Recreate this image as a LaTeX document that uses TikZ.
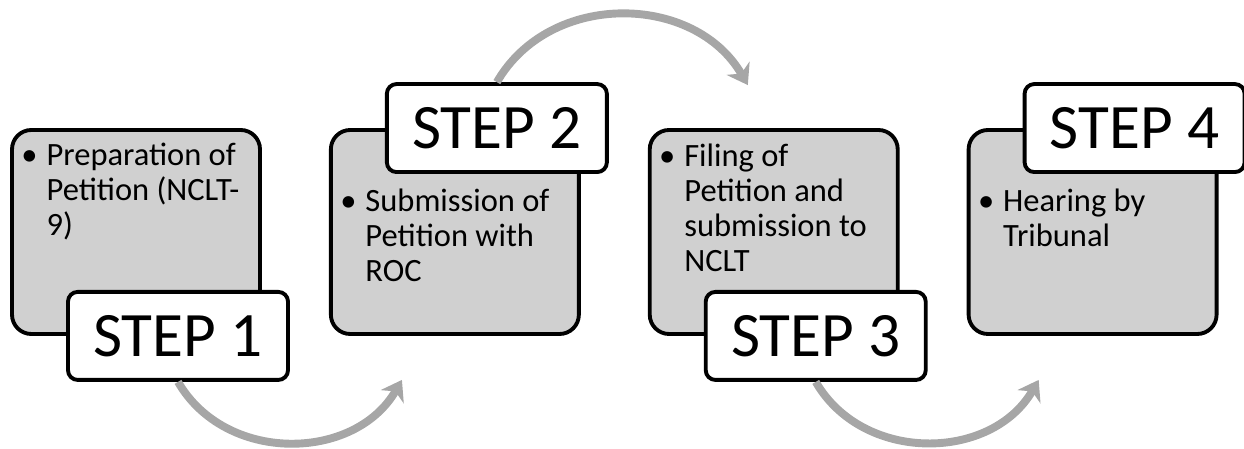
\documentclass[tikz,border=0pt]{standalone}
\usepackage{fontspec}
\setmainfont{Carlito}
\usepackage{tikz}
\usetikzlibrary{arrows.meta, positioning}
\usepackage{xcolor}
\definecolor{boxgray}{RGB}{208,208,208}
\definecolor{arrowgray}{RGB}{166,166,166}

\begin{document}
\begin{tikzpicture}[
    phase/.style={draw, line width=2.2pt, fill=boxgray, rounded corners=11pt, minimum width=4.96cm, minimum height=4.08cm},
    steplabel/.style={draw, line width=2.2pt, fill=white, rounded corners=5.5pt, minimum width=4.4cm, minimum height=1.76cm, inner sep=0pt, font=\fontsize{36}{36}\selectfont},
    itemtext/.style={anchor=base west, inner sep=0pt, font=\fontsize{18.5}{20}\selectfont},
    flow/.style={draw=arrowgray, line width=4.5pt, -{Stealth[length=11pt, width=15pt, inset=3.5pt]}, looseness=1.08}
]
    \useasboundingbox (0,0) rectangle (24.88,8.98);

    % grey boxes
    \node[phase] (g1) at (2.72,4.34) {};
    \node[phase, right=1.34cm of g1] (g2) {};
    \node[phase, right=1.34cm of g2] (g3) {};
    \node[phase, right=1.34cm of g3] (g4) {};

    \node[itemtext] (t1) at ([xshift=0.22cm, yshift=-0.74cm]g1.north west) {\textbullet\hspace{0.18cm}\parbox[t]{4.3cm}{Preparation of\\Petition (NCLT-\\9)}};
    \node[itemtext] (t2) at ([xshift=0.22cm, yshift=-1.66cm]g2.north west) {\textbullet\hspace{0.18cm}\parbox[t]{4.3cm}{Submission of\\Petition with\\ROC}};
    \node[itemtext] (t3) at ([xshift=0.22cm, yshift=-0.76cm]g3.north west) {\textbullet\hspace{0.18cm}\parbox[t]{4.3cm}{Filing of\\Petition and\\submission to\\NCLT}};
    \node[itemtext] (t4) at ([xshift=0.22cm, yshift=-1.66cm]g4.north west) {\textbullet\hspace{0.18cm}\parbox[t]{4.3cm}{Hearing by\\Tribunal}};

    % step labels
    \node[steplabel] (s1) at ([xshift=0.84cm]g1.south) {STEP 1};
    \node[steplabel] (s2) at ([xshift=0.84cm]g2.north) {STEP 2};
    \node[steplabel] (s3) at ([xshift=0.84cm]g3.south) {STEP 3};
    \node[steplabel] (s4) at ([xshift=0.84cm]g4.north) {STEP 4};

    \coordinate (e1) at ([shift={(1.46cm,-0.88cm)}]g2.south west);
    \coordinate (e2) at ([shift={(2.0cm,0.86cm)}]g3.north west);
    \coordinate (e3) at ([shift={(1.44cm,-0.88cm)}]g4.south west);

    \draw[flow] (s1.south) to[out=-60, in=-120] (e1);
    \draw[flow] (s2.north) to[out=60, in=120] (e2);
    \draw[flow] (s3.south) to[out=-60, in=-120] (e3);
\end{tikzpicture}
\end{document}
